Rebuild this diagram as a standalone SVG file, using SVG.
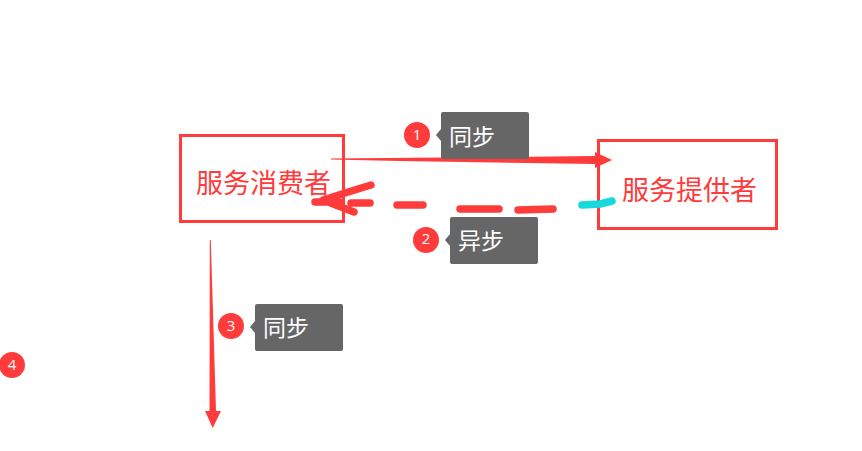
<svg xmlns="http://www.w3.org/2000/svg" width="862" height="451" viewBox="0 0 862 451">
<style>
.box{fill:#fff;stroke:#ff3b3b;stroke-width:3}
.nt{font-family:"Noto Sans CJK SC","Noto Sans",sans-serif;font-size:27px;fill:#ff3b3b;font-weight:400}
.red{fill:#ff3b3b}
.sk{fill:none;stroke:#ff3b3b;stroke-width:7.500;stroke-linecap:round;stroke-linejoin:round}
.tag{fill:#666}
.tt{font-family:"Noto Sans CJK SC","Noto Sans",sans-serif;font-size:23px;fill:#fff;font-weight:400}
.num{font-family:"Open Sans","Liberation Sans",sans-serif;font-size:15px;fill:#fff;text-anchor:middle}
</style>
<rect width="862" height="451" fill="#fff"/>
<g id="consumer"><rect class="box" x="180.500" y="135.500" width="163" height="86"/><text class="nt" x="196" y="193">服务消费者</text></g>
<g id="provider"><rect class="box" x="598.500" y="140.500" width="178" height="88"/><text class="nt" x="622" y="200">服务提供者</text></g>
<g id="connectors">
<path class="red" d="M331 158.500L500 157L595 156L595 152L612 160L595 168L595 164L400 161L331 159.500Z"/>
<path class="red" d="M209.800 240L210.800 240L216 411L221 411L212.700 428L205 411L209.500 411Z"/>
<path class="sk" d="M315 202L340 202M371 185L345 193L323 200L354 212M351 203L370 203M397 205L423 205M460 209L499 209M518 210L553 209"/>
<path class="red" d="M322 200L338 193L336 209Z"/>
<path d="M582 205L600 204L612 201" fill="none" stroke="#16d9dc" stroke-width="7.500" stroke-linecap="round" stroke-linejoin="round"/>
</g>
<g id="label-1"><circle class="red" cx="417" cy="135" r="13"/><text class="num" x="417" y="140">1</text><path class="tag" d="M441 129L436 135L441 141Z"/><rect class="tag" x="441" y="112" width="88" height="47" rx="2"/><text class="tt" x="449" y="145">同步</text></g>
<g id="label-2"><circle class="red" cx="426" cy="240" r="13"/><text class="num" x="426" y="244">2</text><path class="tag" d="M450 234L445 240L450 246Z"/><rect class="tag" x="450" y="217" width="88" height="47" rx="2"/><text class="tt" x="458" y="249">异步</text></g>
<g id="label-3"><circle class="red" cx="231" cy="326" r="13"/><text class="num" x="231" y="331">3</text><path class="tag" d="M255 321L250 327L255 333Z"/><rect class="tag" x="255" y="304" width="88" height="47" rx="2"/><text class="tt" x="263" y="336">同步</text></g>
<g id="label-4"><circle class="red" cx="12" cy="365" r="13"/><text class="num" x="12" y="370">4</text></g>
</svg>
